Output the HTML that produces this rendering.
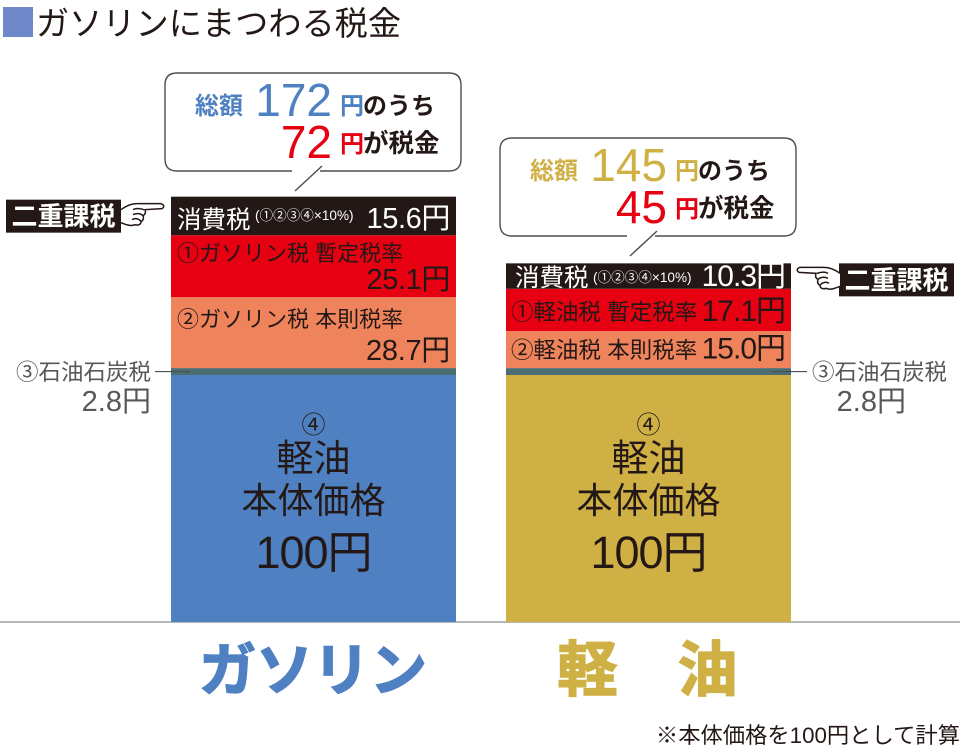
<!DOCTYPE html>
<html lang="ja">
<head>
<meta charset="utf-8">
<title>ガソリンにまつわる税金</title>
<style>
html,body{margin:0;padding:0;background:#fff;}
svg{display:block;}
text{font-family:"Liberation Sans","Noto Sans CJK JP",sans-serif;fill:#231815;}
</style>
</head>
<body>
<svg id="chart" width="960" height="752" viewBox="0 0 960 752" xmlns="http://www.w3.org/2000/svg">
  <rect x="0" y="0" width="960" height="752" fill="#fff"/>
  <rect x="3" y="7" width="30" height="30" fill="#6d87c9"/>
  <text x="36" y="35" font-size="33.2">ガソリンにまつわる税金</text>
  <text x="960" y="743" font-size="22.3" text-anchor="end">※本体価格を100円として計算</text>
</svg>
<script>
var fuelNames = ['ガソリン', '軽油'];
var categoryLabels = ['ガソリン', '軽　油'];
var provisionalLabels = ['①ガソリン税 暫定税率', '①軽油税 暫定税率'];
var standardLabels = ['②ガソリン税 本則税率', '②軽油税 本則税率'];
var baseValues = [100, 100];
var coalTaxValues = [2.8, 2.8];
var standardTaxValues = [28.7, 15.0];
var provisionalTaxValues = [25.1, 17.1];
var consumptionTaxValues = [15.6, 10.3];
var totalValues = [172, 145];
var taxTotalValues = [72, 45];

var SVG_NS = 'http://www.w3.org/2000/svg';
var chart = document.getElementById('chart');
var baselineY = 622;
var pxPerYen = 2.47;
var barWidth = 285;
var barLefts = [171, 506];
var accentColors = ['#4f81c2', '#cfb045'];
var INK = '#231815';
var RED = '#e60012';
var GREY = '#595757';

function yScale(v) { return baselineY - v * pxPerYen; }
function xBar(i) { return barLefts[i]; }

function add(tag, attrs, text) {
  var el = document.createElementNS(SVG_NS, tag);
  for (var k in attrs) { el.setAttribute(k, attrs[k]); }
  if (text !== undefined) { el.textContent = text; }
  chart.appendChild(el);
  return el;
}
function label(name, x, y, size, str, opts) {
  var o = opts || {};
  var el = add('text', {
    x: x, y: y, 'font-size': size,
    'text-anchor': o.anchor || 'start',
    'font-weight': o.weight || 400,
    style: 'fill:' + (o.fill || INK) + (o.spacing ? ';letter-spacing:' + o.spacing + 'px' : '')
  }, str);
  
  
  return el;
}
function yen(v) { return v.toFixed(1) + '円'; }

function drawHand(name, x, y, flip) {
  var g = document.createElementNS(SVG_NS, 'g');
  
  
  g.setAttribute('transform', flip ? 'translate(' + (x + 45) + ',' + y + ') scale(-1,1)' : 'translate(' + x + ',' + y + ')');
  var p = document.createElementNS(SVG_NS, 'path');
  p.setAttribute('d', 'M0,7 C4,4 10,1 16,1 L40,1 Q45,3 41,6 L24,7 C25,10 24,12 22,13 C23,16 22,18 20,19 C20,22 17,23 14,22 C10,24 5,22 0,20 M12,7 C15,5 20,6 23,7 M12,12 C16,10 20,11 22,13 M11,17 C14,15 18,16 20,19');
  p.setAttribute('fill', '#fff');
  p.setAttribute('stroke', INK);
  p.setAttribute('stroke-width', '1.5');
  g.appendChild(p);
  chart.appendChild(g);
}

function drawCallout(i, x, y, gapFrom, gapTo) {
  var w = 296, h = 98, r = 12;
  var path = add('path', {
    d: 'M' + gapFrom + ',' + (y + h) + ' L' + (x + r) + ',' + (y + h) +
       ' Q' + x + ',' + (y + h) + ' ' + x + ',' + (y + h - r) +
       ' L' + x + ',' + (y + r) + ' Q' + x + ',' + y + ' ' + (x + r) + ',' + y +
       ' L' + (x + w - r) + ',' + y + ' Q' + (x + w) + ',' + y + ' ' + (x + w) + ',' + (y + r) +
       ' L' + (x + w) + ',' + (y + h - r) + ' Q' + (x + w) + ',' + (y + h) + ' ' + (x + w - r) + ',' + (y + h) +
       ' L' + gapTo + ',' + (y + h),
    fill: 'none', stroke: '#4d4d4d', 'stroke-width': 1.4
  });
  
  
  var tail = add('line', {
    x1: gapTo + 2, y1: y + h - 5, x2: gapTo - 25, y2: y + h + 20,
    stroke: '#4d4d4d', 'stroke-width': 1.4
  });
  
  

  var numEnd = x + 167;
  label('callout-total-label', x + 30, y + 41, 24, '総額', { weight: 700, fill: accentColors[i] });
  label('callout-total-value', numEnd, y + 43, 46, String(totalValues[i]), { anchor: 'end', fill: accentColors[i] });
  label('callout-total-unit', x + 175, y + 41, 24, '円', { weight: 700, fill: accentColors[i] });
  label('callout-total-suffix', x + 198, y + 41, 24, 'のうち', { weight: 700 });
  label('callout-tax-value', numEnd, y + 85, 46, String(taxTotalValues[i]), { anchor: 'end', fill: RED });
  label('callout-tax-unit', x + 175, y + 79, 24, '円', { weight: 700, fill: RED });
  label('callout-tax-suffix', x + 198, y + 79, 25.5, 'が税金', { weight: 700 });
}

function drawBar(i) {
  var x = xBar(i);
  var right = x + barWidth - 6;
  var center = x + barWidth / 2;
  var stack = [
    { key: 'base', v: baseValues[i], fill: accentColors[i] },
    { key: 'coal-tax', v: coalTaxValues[i], fill: '#4a6e72' },
    { key: 'standard-tax', v: standardTaxValues[i], fill: '#ef845c' },
    { key: 'provisional-tax', v: provisionalTaxValues[i], fill: '#e60012' },
    { key: 'consumption-tax', v: consumptionTaxValues[i], fill: INK }
  ];
  var sum = 0;
  stack.forEach(function (s) {
    var y0 = yScale(sum);
    var y1 = yScale(sum + s.v);
    var r = add('rect', { x: x, y: y1, width: barWidth, height: y0 - y1, fill: s.fill });
    
    
    s.top = y1;
    s.bottom = y0;
    sum += s.v;
  });

  var base = stack[0], coal = stack[1], std = stack[2], prov = stack[3], cons = stack[4];

  label('consumption-tax-label', i === 0 ? x + 6 : x + 9, cons.bottom - (i === 0 ? 7 : 3), 24.5, '消費税', { fill: '#fff' });
  label('consumption-tax-formula', i === 0 ? x + 84 : x + 87, cons.bottom - (i === 0 ? 15 : 7), 13.6, '(①②③④×10%)', { fill: '#fff' });
  label('consumption-tax-value', right, cons.bottom - (i === 0 ? 7 : 3), i === 0 ? 29 : 30, yen(consumptionTaxValues[i]), { anchor: 'end', fill: '#fff', spacing: i === 0 ? -0.4 : -1 });

  if (i === 0) {
    label('provisional-tax-label', x + 6, prov.top + 26, 22, provisionalLabels[i]);
    label('provisional-tax-value', right, prov.bottom - 8, 29, yen(provisionalTaxValues[i]), { anchor: 'end', spacing: -0.4 });
    label('standard-tax-label', x + 6, std.top + 30, 22, standardLabels[i]);
    label('standard-tax-value', right, std.bottom - 8, 29, yen(standardTaxValues[i]), { anchor: 'end', spacing: -0.3 });
  } else {
    label('provisional-tax-label', x + 5, prov.bottom - 11, 22.5, provisionalLabels[i]);
    label('provisional-tax-value', right, prov.bottom - 10, 30, yen(provisionalTaxValues[i]), { anchor: 'end', spacing: -1 });
    label('standard-tax-label', x + 5, std.bottom - 10, 22.5, standardLabels[i]);
    label('standard-tax-value', right, std.bottom - 9.5, 30, yen(standardTaxValues[i]), { anchor: 'end', spacing: -1 });
  }

  label('base-price-marker', center, base.top + 58, 24, '④', { anchor: 'middle' });
  label('base-price-label-fuel', center, base.top + 96, 37, '軽油', { anchor: 'middle' });
  label('base-price-label-body', center, base.top + 138, 36, '本体価格', { anchor: 'middle' });
  label('base-price-value', center, base.top + 193, 45, baseValues[i] + '円', { anchor: 'middle', spacing: -1 });

  var coalMid = (coal.top + coal.bottom) / 2;
  var leader = add('line', i === 0
    ? { x1: 155, y1: coalMid, x2: 190, y2: coalMid, stroke: '#4d4d4d', 'stroke-width': 1.2 }
    : { x1: 772, y1: coalMid, x2: 807, y2: coalMid, stroke: '#4d4d4d', 'stroke-width': 1.2 });
  
  
  label('coal-tax-label', i === 0 ? 151 : 947, coal.bottom + 5, 22.5, '③石油石炭税', { anchor: 'end', fill: GREY });
  label('coal-tax-value', i === 0 ? 151 : 906, coal.bottom + 36, 29, yen(coalTaxValues[i]), { anchor: 'end', fill: GREY });

  var tagX = i === 0 ? 6 : 839;
  var tagY = cons.top + (i === 0 ? 3 : 0);
  var tag = add('rect', { x: tagX, y: tagY, width: 115, height: 33, fill: INK });
  
  
  label('double-taxation-label', tagX + 57.5, tagY + 26, 26, '二重課税', { anchor: 'middle', weight: 700, fill: '#fff' });
  drawHand('pointing-hand', i === 0 ? 121 : 795, tagY + 3, i !== 0);

  var catCenters = [313, 647.5];
  var cat = label('category-label', catCenters[i], i === 0 ? 690 : 691, i === 0 ? 57 : 60, categoryLabels[i], {
    anchor: 'middle', weight: 700, fill: accentColors[i]
  });
  cat.setAttribute('stroke', accentColors[i]);
  cat.setAttribute('stroke-width', '1.5');
}

fuelNames.forEach(function (_, i) { drawBar(i); });

var axis = add('line', { x1: 0, y1: baselineY, x2: 960, y2: baselineY, stroke: '#9f9fa0', 'stroke-width': 1.5 });


barLefts.forEach(function (x, i) {
  var cap = add('rect', { x: x, y: baselineY - 1, width: barWidth, height: 1, fill: accentColors[i] });
  
  
});

drawCallout(0, 165, 73, 292, 320);
drawCallout(1, 500, 138, 627, 655);
</script>
</body>
</html>
